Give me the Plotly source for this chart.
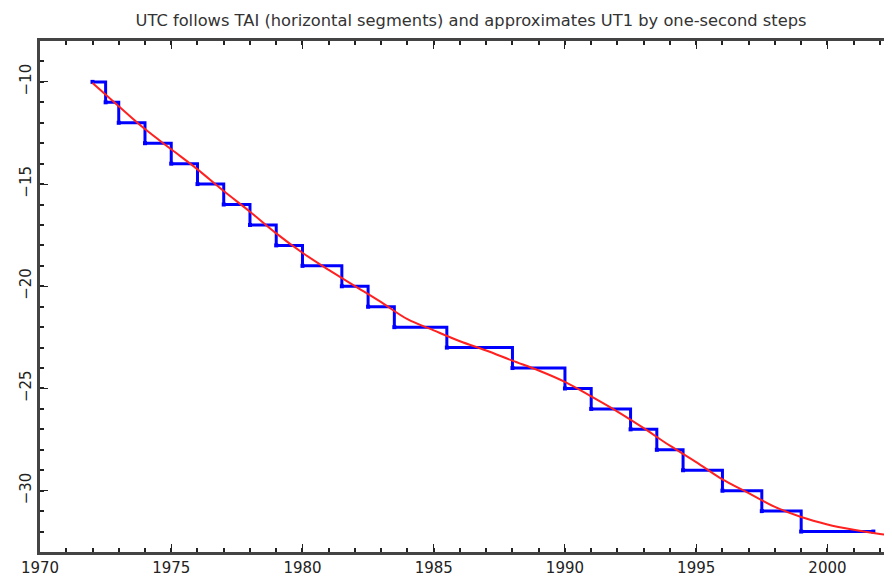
import plotly.graph_objects as go

# UTC - TAI (seconds): step dates (decimal years) and values
step_years = [1972.0, 1972.5, 1973.0, 1974.0, 1975.0, 1976.0, 1977.0, 1978.0,
              1979.0, 1980.0, 1981.5, 1982.5, 1983.5, 1985.5, 1988.0, 1990.0,
              1991.0, 1992.5, 1993.5, 1994.5, 1996.0, 1997.5, 1999.0, 2001.75]
utc_tai = [-10, -11, -12, -13, -14, -15, -16, -17, -18, -19, -20, -21, -22,
           -23, -24, -25, -26, -27, -28, -29, -30, -31, -32, -32]

# UT1 - TAI (seconds), smooth curve
ut1_years = [1972, 1973, 1974, 1975, 1976, 1977, 1978, 1979, 1980, 1981, 1982,
             1983, 1984, 1985, 1986, 1987, 1988, 1989, 1990, 1991, 1992, 1993,
             1994, 1995, 1996, 1997, 1998, 1999, 2000, 2001, 2002, 2003]
ut1_tai = [-10.05, -11.19, -12.31, -13.30, -14.28, -15.34, -16.35, -17.41,
           -18.36, -19.20, -19.99, -20.78, -21.61, -22.16, -22.69, -23.14,
           -23.64, -24.12, -24.68, -25.39, -26.13, -26.94, -27.80, -28.60,
           -29.45, -30.12, -30.79, -31.29, -31.65, -31.91, -32.12, -32.29]

title_text = "UTC follows TAI (horizontal segments) and approximates UT1 by one-second steps"
x_ticks = [1970, 1975, 1980, 1985, 1990, 1995, 2000]
y_ticks = [-10, -15, -20, -25, -30]

FONT = "DejaVu Sans, Verdana, sans-serif"

fig = go.Figure()
fig.add_trace(go.Scatter(
    x=step_years, y=utc_tai, mode="lines+markers", line_shape="hv",
    line=dict(color="#0000ff", width=3),
    marker=dict(color="#0000ff", size=4, symbol="square"),
    showlegend=False))
fig.add_trace(go.Scatter(
    x=ut1_years, y=ut1_tai, mode="lines", line_shape="spline",
    line=dict(color="#ff2020", width=2),
    showlegend=False))

axis_common = dict(
    showgrid=False, zeroline=False, showline=True, linewidth=3,
    linecolor="#444444", ticks="inside", tickcolor="#222222",
    tickfont=dict(family=FONT, size=15, color="#222222"),
)

# page body has an 8px margin, so the figure is offset by 8px right and down
fig.update_layout(
    width=884, height=569,
    margin=dict(l=32, r=0, t=33, b=20),
    paper_bgcolor="white", plot_bgcolor="white",
    title=dict(text=title_text, x=(471 - 8) / 884, xanchor="center",
               y=1 - 12 / 569, yanchor="middle",
               font=dict(family=FONT, size=16.3, color="#333333")),
    xaxis=dict(range=[1970, 2002.46], tickvals=x_ticks, ticklen=8, tickwidth=1,
               mirror="ticks",
               minor=dict(dtick=1, tick0=1970, ticks="inside", ticklen=4,
                          tickcolor="#222222", tickwidth=2),
               **axis_common),
    yaxis=dict(range=[-33.0, -8.0], tickvals=y_ticks, ticklen=8, tickwidth=1,
               tickangle=-90,
               minor=dict(dtick=1, tick0=-10, ticks="inside", ticklen=4,
                          tickcolor="#222222", tickwidth=2),
               **axis_common),
)

fig.write_html("out.html")
